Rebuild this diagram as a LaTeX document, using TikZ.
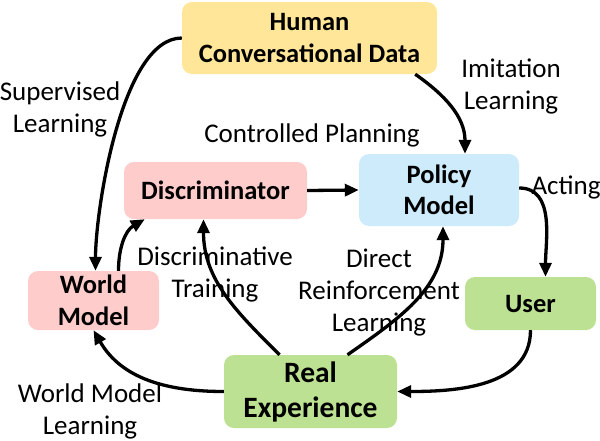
\documentclass[tikz,border=0pt]{standalone}
\usepackage{fontspec}
\setmainfont{Carlito}
\usetikzlibrary{arrows.meta}
\definecolor{cyellow}{HTML}{FFE699}
\definecolor{cpink}{HTML}{FFCCCC}
\definecolor{cblue}{HTML}{CDEBFB}
\definecolor{cgreen}{HTML}{BDE192}
\begin{document}
\begin{tikzpicture}[x=1pt,y=-1pt,
  box/.style={rounded corners=10pt, inner sep=0pt, align=center, font=\fontsize{26.5}{31.5}\selectfont\bfseries},
  lbl/.style={align=center, inner sep=0pt, font=\fontsize{27}{32}\selectfont},
  arr/.style={line width=3.3pt, -{Triangle[length=14pt,width=12pt]}}]
\useasboundingbox (0,0) rectangle (600,440);
\node[box, fill=cyellow, minimum width=255pt, minimum height=72pt] (hcd) at (309.5,38) {Human\\Conversational Data};
\node[box, fill=cpink, minimum width=183pt, minimum height=57pt] (disc) at (215.5,190.5) {Discriminator};
\node[box, fill=cblue, minimum width=160pt, minimum height=72pt] (pm) at (439,190) {Policy\\Model};
\node[box, fill=cpink, minimum width=131pt, minimum height=59pt] (wm) at (93.5,300.5) {World\\Model};
\node[box, fill=cgreen, minimum width=131pt, minimum height=53pt] (user) at (530.5,303.5) {User};
\node[box, fill=cgreen, minimum width=173pt, minimum height=73pt, font=\fontsize{29.5}{35}\selectfont\bfseries] (re) at (310.5,391.5) {Real\\Experience};

\node[lbl] (l1) at (60,109) {Supervised\\Learning};
\node[lbl] (l2) at (511,86) {Imitation\\Learning};
\node[lbl] (l3) at (312,135) {Controlled Planning};
\node[lbl] (l4) at (566,187) {Acting};
\node[lbl] (l5) at (215,274) {Discriminative\\Training};
\node[lbl] (l6) at (379,293) {Direct\\Reinforcement\\Learning};
\node[lbl] (l7) at (90,411) {World Model\\Learning};

\draw[arr] (hcd.west) to[out=180,in=90,looseness=0.62] ([xshift=2pt]wm.north);
\draw[arr] ([xshift=-22pt]hcd.south east) to[out=-35,in=90] ([xshift=26pt]pm.north);
\draw[arr] (disc.east) -- (pm.west);
\draw[arr] ([yshift=2pt]pm.east) to[out=0,in=90] ([xshift=15pt]user.north);
\draw[arr] (user.south) to[out=-90,in=0] (re.east);
\draw[arr] (re.west) to[out=180,in=-60] (wm.south);
\draw[arr] ([xshift=-31pt]re.north) to[out=135,in=-90] ([xshift=-12pt]disc.south);
\draw[arr] ([xshift=37pt]re.north) to[out=35,in=-90] ([xshift=4pt]pm.south);
\draw[arr] ([xshift=25pt]wm.north) to[out=90,in=210] ([xshift=21pt]disc.south west);
\end{tikzpicture}
\end{document}
